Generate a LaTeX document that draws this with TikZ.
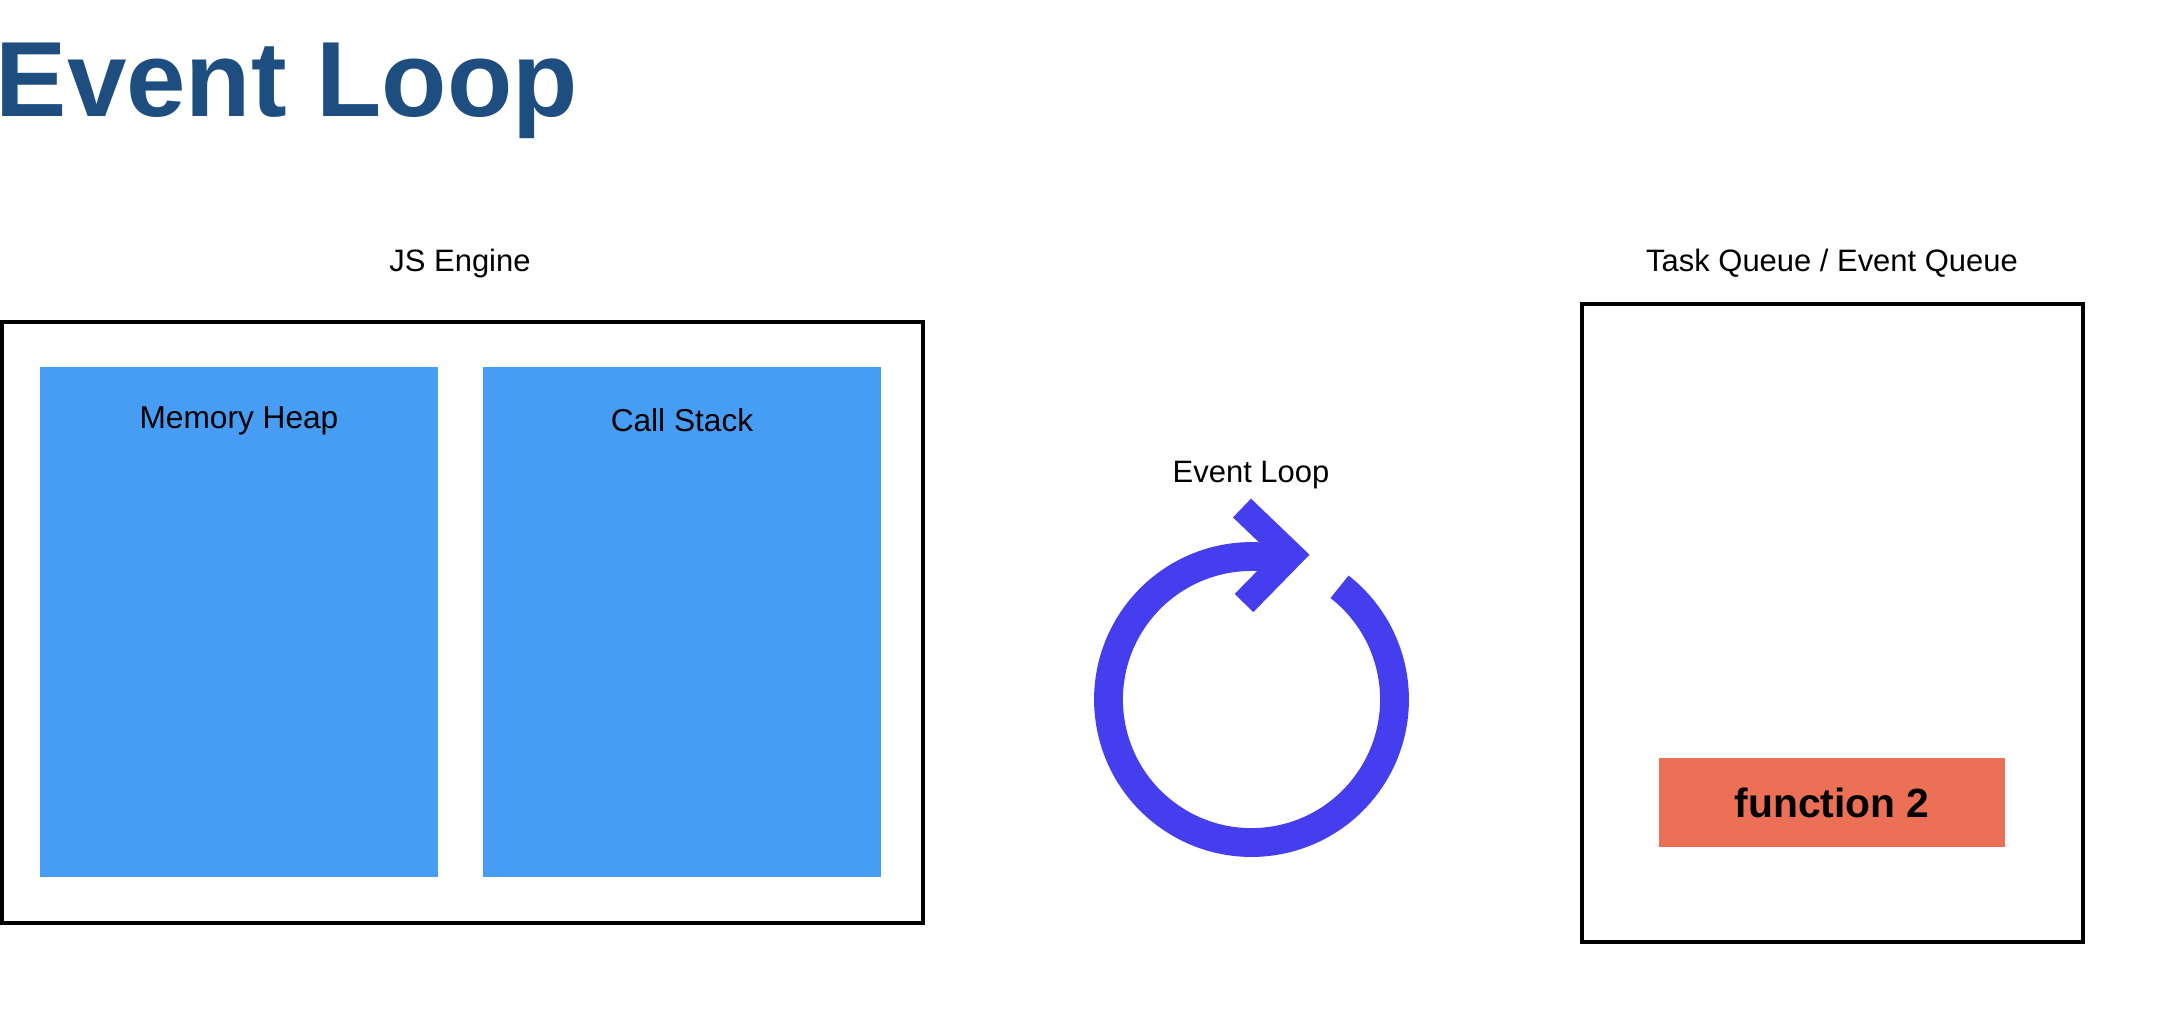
\documentclass[tikz,border=0pt]{standalone}
\usepackage{fontspec}
\setmainfont{Liberation Sans}
\begin{document}
\definecolor{titleblue}{RGB}{30,78,128}
\definecolor{boxblue}{RGB}{71,157,243}
\definecolor{taskred}{RGB}{235,112,86}
\definecolor{loopblue}{RGB}{68,62,238}
\begin{tikzpicture}[x=0.01cm,y=0.01cm,
  frame/.style={draw=black,line width=1.2pt},
  region/.style={fill=boxblue,draw=none},
  label/.style={font=\fontsize{8.8pt}{10pt}\selectfont,inner sep=0pt,anchor=center},
  ringline/.style={draw=loopblue,line width=8.2pt,line cap=butt},
  tip/.style={draw=loopblue,line width=7.4pt,line cap=butt,line join=miter}]
  % canvas
  \useasboundingbox[fill=white] (0,0) rectangle (2166,-1032);

  % heading
  \node[anchor=base west,inner sep=0pt,text=titleblue,
        font=\fontsize{30.4pt}{36pt}\selectfont\bfseries] (title) at (-5,-116) {Event Loop};

  % JS engine with its two parts
  \node[label] (jslabel) at (460,-263) {JS Engine};
  \draw[frame] (2,-322) rectangle (923,-923);
  \fill[region] (40,-367) rectangle (438,-877);
  \fill[region] (483,-367) rectangle (881,-877);
  \node[label,font=\fontsize{9pt}{10pt}\selectfont] (heap) at (239,-421) {Memory Heap};
  \node[label,font=\fontsize{9pt}{10pt}\selectfont] (stack) at (682,-420) {Call Stack};

  % event loop symbol
  \node[label] (looplabel) at (1251,-475) {Event Loop};
  \coordinate (ctr) at (1251.5,-699.5);
  \draw[ringline] (ctr) ++(52:143) arc[start angle=52,end angle=-282,radius=143];
  \draw[tip] (1242,-508) -- (1291,-555) -- (1244,-603);

  % task queue
  \node[label] (tqlabel) at (1832,-263) {Task Queue / Event Queue};
  \draw[frame] (1582,-304) rectangle (2083,-942);
  \node[fill=taskred,minimum width=3.45cm,minimum height=0.89cm,inner sep=0pt,
        font=\fontsize{11.6pt}{13pt}\selectfont\bfseries] (fn2)
        at (1832,-802.5) {function 2};
\end{tikzpicture}
\end{document}
